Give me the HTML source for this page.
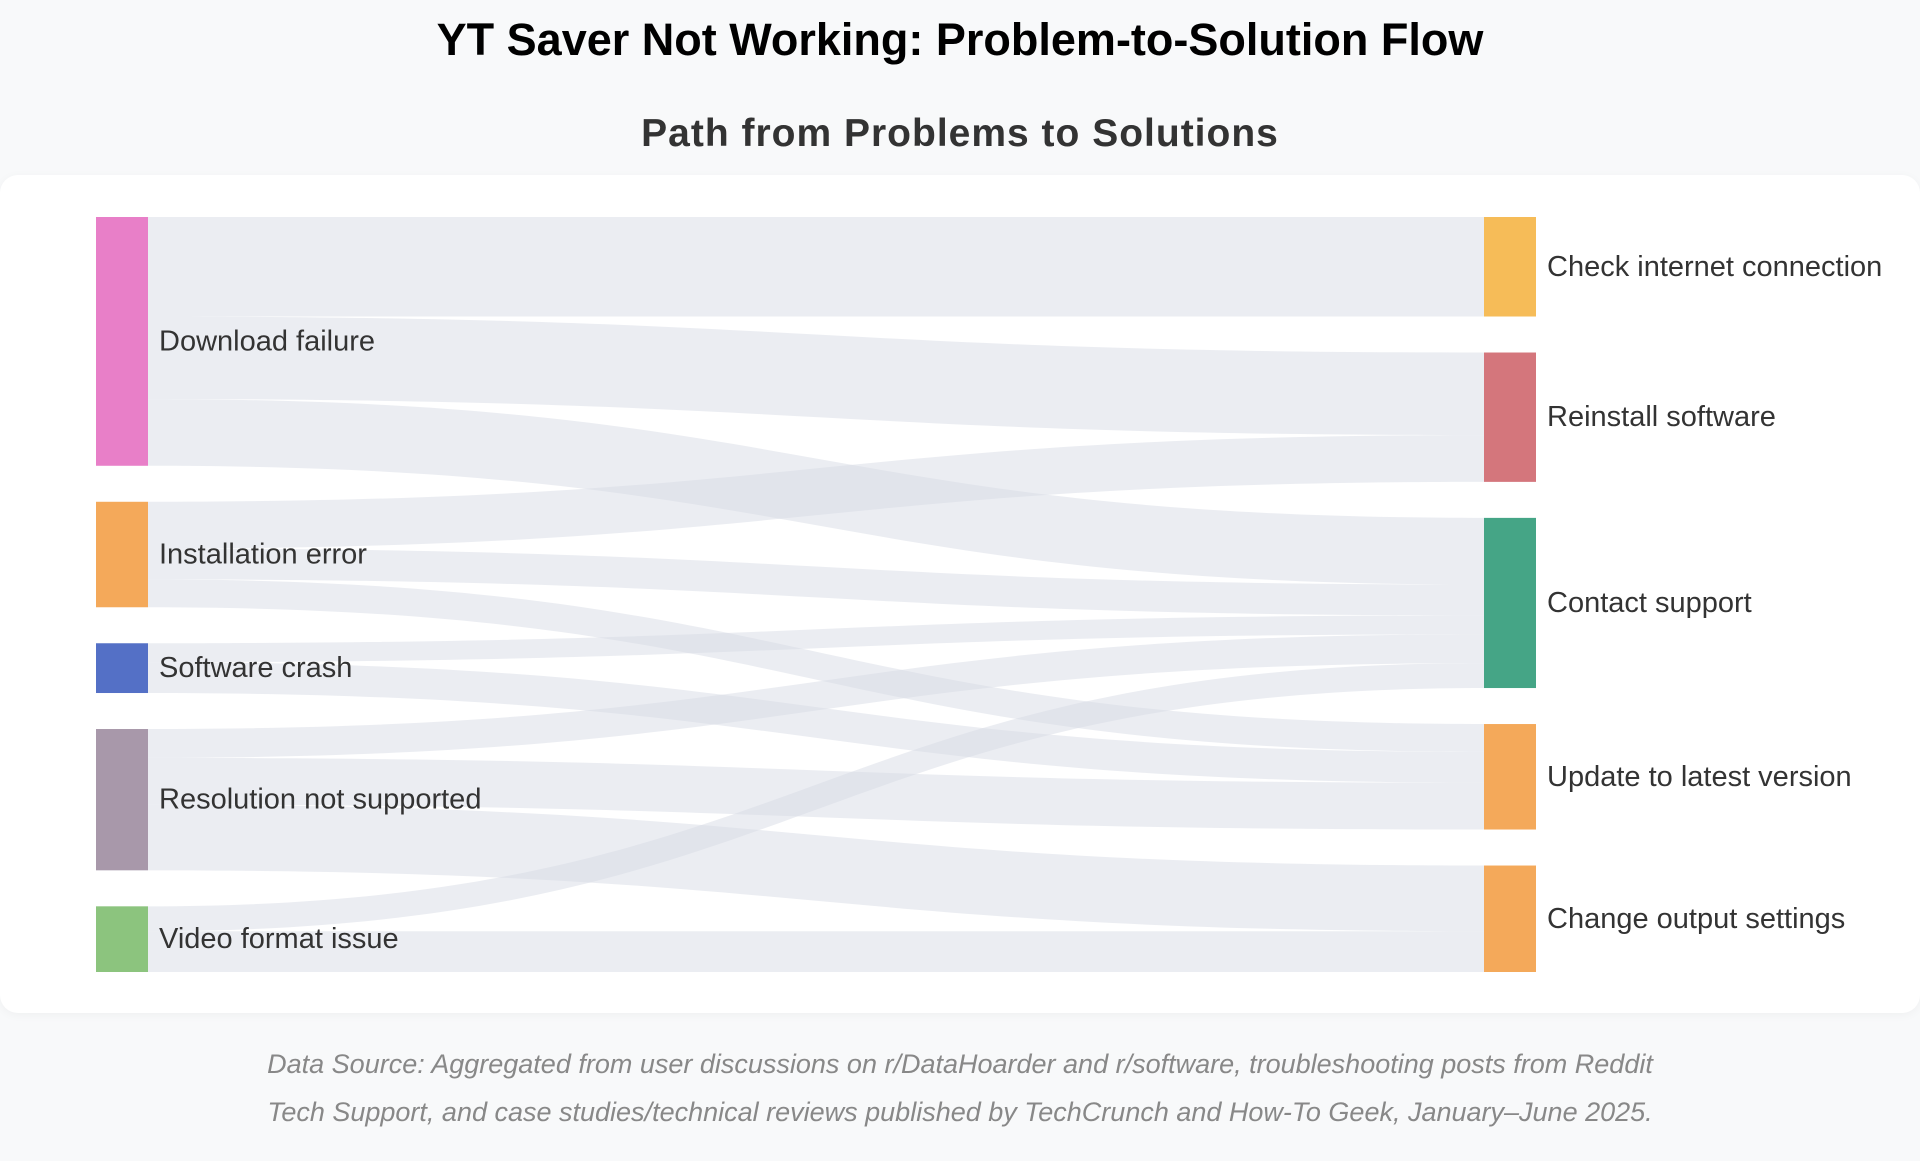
<!DOCTYPE html>
<html><head><meta charset="utf-8">
<style>
html,body{margin:0;padding:0;width:1920px;height:1161px;overflow:hidden;background:#f8f9fa;font-family:"Liberation Sans",Arial,sans-serif;}
#title{position:absolute;top:14px;left:0;width:1920px;text-align:center;font-size:45px;font-weight:bold;color:#000;}
#subtitle{position:absolute;top:112px;left:0;width:1920px;text-align:center;font-size:39px;font-weight:bold;color:#333;letter-spacing:1px;}
#card{position:absolute;left:0;top:175px;width:1920px;height:838px;background:#fff;border-radius:18px;box-shadow:0 2px 10px rgba(0,0,0,0.04);}
#chart{position:absolute;left:0;top:0;}
#footer{position:absolute;top:1040px;left:0;width:1920px;text-align:center;font-size:27px;font-style:italic;color:#888;line-height:48px;}
</style></head>
<body>
<div id="title">YT Saver Not Working: Problem-to-Solution Flow</div>
<div id="subtitle">Path from Problems to Solutions</div>
<div id="card"></div>
<svg id="chart" width="1920" height="1161"></svg>
<div id="footer">Data Source: Aggregated from user discussions on r/DataHoarder and r/software, troubleshooting posts from Reddit<br>Tech Support, and case studies/technical reviews published by TechCrunch and How-To Geek, January–June 2025.</div>
<script>
const sources = ["Download failure","Installation error","Software crash","Resolution not supported","Video format issue"];
const targets = ["Check internet connection","Reinstall software","Contact support","Update to latest version","Change output settings"];
const linkSource = [0,0,0,1,1,1,2,2,3,3,3,4,4];
const linkTarget = [0,1,2,1,2,3,2,3,2,3,4,2,4];
const linkValue  = [100,83,67,47,31,28,19,31,29,47,66,25,41];
const sourceColors = ["#e87fc8","#f4a95a","#5470c6","#a898aa","#8cc47e"];
const targetColors = ["#f6bc58","#d4767c","#45a586","#f4a95a","#f4a95a"];

const svg = document.getElementById('chart');
const NS = 'http://www.w3.org/2000/svg';
const top0 = 217, bottom0 = 972, gap = 36, nodeW = 52;
const xL = 96, xR = 1484;

function totals(n, key){
  const t = new Array(n).fill(0);
  linkValue.forEach((v,i)=>{ t[key[i]] += v; });
  return t;
}
const sTot = totals(sources.length, linkSource);
const tTot = totals(targets.length, linkTarget);
const kL = (bottom0 - top0 - gap*(sources.length-1)) / sTot.reduce((a,b)=>a+b,0);
const kR = (bottom0 - top0 - gap*(targets.length-1)) / tTot.reduce((a,b)=>a+b,0);
const k = Math.min(kL,kR);
function layout(tot){
  const gapUse = (bottom0 - top0 - k*tot.reduce((a,b)=>a+b,0)) / (tot.length-1);
  const ys = []; let y = top0;
  tot.forEach(t=>{ ys.push(y); y += t*k + gapUse; });
  return ys;
}
const sY = layout(sTot), tY = layout(tTot);

// links
const sOff = sY.slice(), tOff = tY.slice();
const order = linkValue.map((v,i)=>i).sort((a,b)=> linkSource[a]-linkSource[b] || linkTarget[a]-linkTarget[b]);
const tOrder = linkValue.map((v,i)=>i).sort((a,b)=> linkTarget[a]-linkTarget[b] || linkSource[a]-linkSource[b]);
const tStart = {};
tOrder.forEach(i=>{ tStart[i] = tOff[linkTarget[i]]; tOff[linkTarget[i]] += linkValue[i]*k; });
order.forEach(i=>{
  const h = linkValue[i]*k;
  const y0 = sOff[linkSource[i]]; sOff[linkSource[i]] += h;
  const y1 = tStart[i];
  const x0 = xL + nodeW, x1 = xR, xm = (x0+x1)/2;
  const p = document.createElementNS(NS,'path');
  p.setAttribute('d', `M${x0},${y0} C${xm},${y0} ${xm},${y1} ${x1},${y1} L${x1},${y1+h} C${xm},${y1+h} ${xm},${y0+h} ${x0},${y0+h} Z`);
  p.setAttribute('fill','#d5d9e3');
  p.setAttribute('fill-opacity','0.48');
  
  
  svg.appendChild(p);
});

function node(x, y, h, color, label, lx, name){
  const r = document.createElementNS(NS,'rect');
  r.setAttribute('x',x); r.setAttribute('y',y); r.setAttribute('width',nodeW); r.setAttribute('height',h);
  r.setAttribute('fill',color);
  
  
  svg.appendChild(r);
  const t = document.createElementNS(NS,'text');
  t.setAttribute('x',lx); t.setAttribute('y',y+h/2);
  t.setAttribute('dominant-baseline','central');
  t.setAttribute('font-size','29');
  t.setAttribute('font-family','"Liberation Sans", Arial, sans-serif');
  t.setAttribute('fill','#333');
  t.textContent = label;
  
  
  svg.appendChild(t);
}
sources.forEach((s,i)=> node(xL, sY[i], sTot[i]*k, sourceColors[i], s, 159, s.toLowerCase().replace(/ /g,'-')));
targets.forEach((s,i)=> node(xR, tY[i], tTot[i]*k, targetColors[i], s, 1547, s.toLowerCase().replace(/ /g,'-')));
</script>
</body></html>
